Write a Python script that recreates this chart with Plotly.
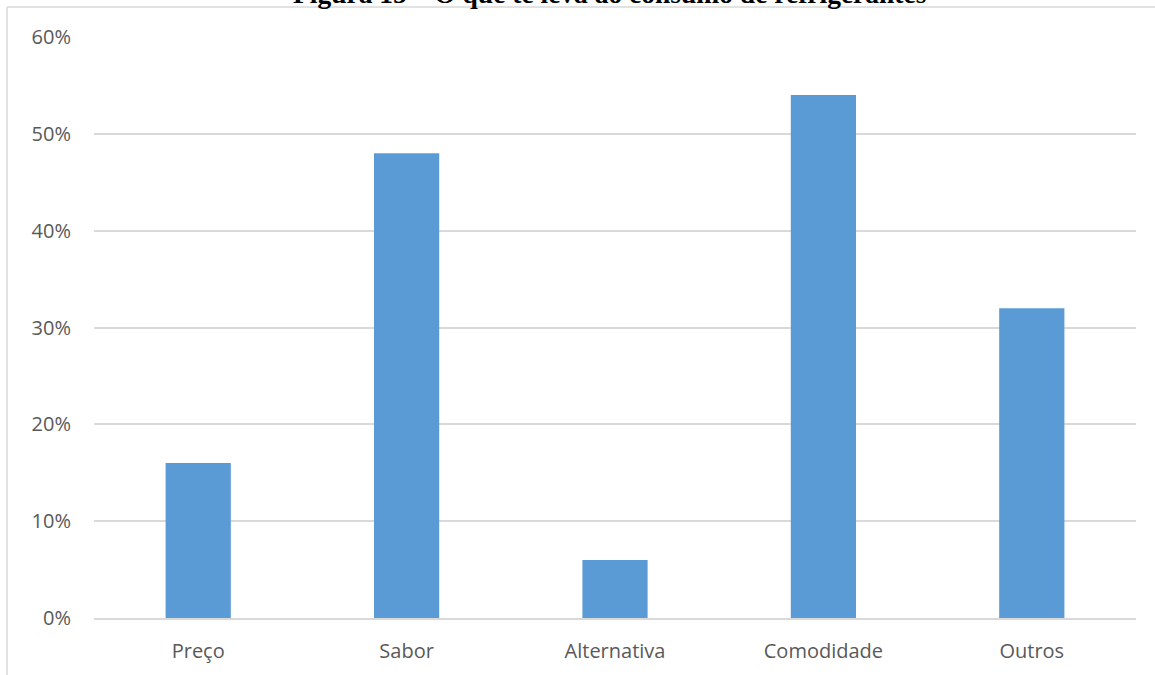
import plotly.graph_objects as go

# Survey results: reasons for drinking soft drinks (% of respondents)
categorias = ["Preço", "Sabor", "Alternativa", "Comodidade", "Outros"]
percentuais = [16, 48, 6, 54, 32]
y_ticks = [0, 10, 20, 30, 40, 50, 60]
titulo = "Figura 15 – O que te leva ao consumo de refrigerantes"

W, H = 1155, 675
ML, MR, MT, MB = 94, 19, 37, 57
PW, PH = W - ML - MR, H - MT - MB


def px_x(p):
    return (p - ML) / PW


def px_y(p):
    return (H - MB - p) / PH


fig = go.Figure(
    go.Bar(
        x=categorias,
        y=percentuais,
        marker=dict(color="#5B9BD5", line=dict(width=0)),
        hoverinfo="x+y",
    )
)

axis_font = dict(family="Open Sans, sans-serif", size=20, color="#595959")

fig.update_layout(
    width=W,
    height=H,
    margin=dict(l=ML, r=MR, t=MT, b=MB),
    paper_bgcolor="white",
    plot_bgcolor="white",
    bargap=0.687,
    showlegend=False,
    xaxis=dict(
        showgrid=False,
        showline=True,
        linecolor="#D9D9D9",
        linewidth=2,
        tickfont=axis_font,
        ticks="",
        ticklabelstandoff=14,
    ),
    yaxis=dict(
        range=[0, 60],
        tickvals=y_ticks,
        ticktext=[f"{v}%" for v in y_ticks],
        showgrid=True,
        gridcolor="#D9D9D9",
        gridwidth=1.5,
        zeroline=False,
        showline=False,
        tickfont=axis_font,
        ticks="",
        ticklabelstandoff=22,
    ),
    shapes=[
        # chart frame
        dict(type="line", xref="paper", yref="paper",
             x0=px_x(7), x1=px_x(W + 10), y0=px_y(7), y1=px_y(7),
             line=dict(color="#D9D9D9", width=1.5)),
        dict(type="line", xref="paper", yref="paper",
             x0=px_x(7), x1=px_x(7), y0=px_y(7), y1=px_y(H + 10),
             line=dict(color="#D9D9D9", width=1.5)),
    ],
    annotations=[
        # figure caption sitting above the top edge of the frame
        dict(
            text=f"<b>{titulo}</b>",
            xref="paper", yref="paper",
            x=px_x(610), y=px_y(-7),
            xanchor="center", yanchor="middle",
            showarrow=False,
            font=dict(family="Liberation Serif, Times New Roman, serif", size=27.5, color="black"),
        )
    ],
)

fig.write_html("out.html")
